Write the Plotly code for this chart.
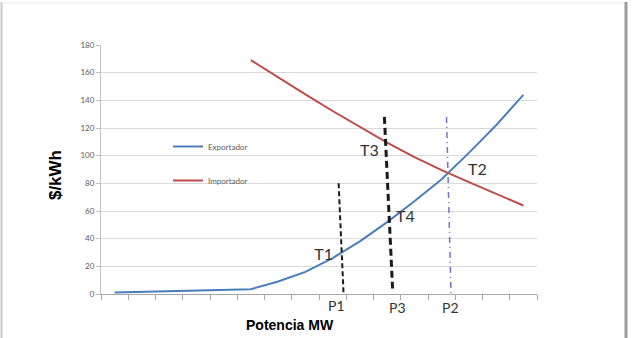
import plotly.graph_objects as go

# Data (category index 0..15)
x_idx = list(range(16))
exportador = [1, 1.5, 2, 2.5, 3, 3.5, 9, 16, 26, 38, 52, 67, 83, 102, 122, 144]
x_imp = list(range(5, 16))
importador = [169, 156.5, 144.3, 132.3, 120.6, 109.4, 99, 89.6, 80.9, 72.5, 64]

# Reference lines (category position, $/kWh)
p1_x = [8.22, 8.40]; p1_y = [80, 0.5]
p3_x = [9.90, 10.20]; p3_y = [128, 4]
p2_x = [12.18, 12.35]; p2_y = [128, -3]

t_labels = ["T1", "T3", "T4", "T2"]
t_x = [7.67, 9.35, 10.67, 13.31]
t_y = [27.5, 102.7, 55, 89]
p_labels = ["P1", "P3", "P2"]
p_x = [8.15, 10.38, 12.32]
p_y = [-8, -9.4, -9.4]

Y_MAX = 180

fig = go.Figure()
fig.add_trace(go.Scatter(x=x_idx, y=exportador, mode="lines", name="Exportador",
                         line=dict(color="#4a7ebb", width=2), legendgroup="a"))
fig.add_trace(go.Scatter(x=x_imp, y=importador, mode="lines", name="Importador",
                         line=dict(color="#be4b48", width=2), legendgroup="b"))
fig.add_trace(go.Scatter(x=p1_x, y=p1_y, mode="lines", showlegend=False,
                         line=dict(color="#1a1a1a", width=2, dash="5px,3px"), cliponaxis=False))
fig.add_trace(go.Scatter(x=p3_x, y=p3_y, mode="lines", showlegend=False,
                         line=dict(color="#1a1a1a", width=3, dash="7px,4px"), cliponaxis=False))
fig.add_trace(go.Scatter(x=p2_x, y=p2_y, mode="lines", showlegend=False,
                         line=dict(color="#7b6fc8", width=1.5, dash="6px,4px,1px,4px"), cliponaxis=False))
fig.add_trace(go.Scatter(x=t_x, y=t_y, mode="text", text=t_labels, showlegend=False,
                         textfont=dict(family="Lato", size=16, color="#333333"), cliponaxis=False))

anns = []
for t, xx, yy in zip(p_labels, p_x, p_y):
    anns.append(dict(x=xx, y=yy / Y_MAX, xref="x", yref="paper", text=t, showarrow=False,
                     yanchor="middle", xanchor="center",
                     font=dict(family="Lato", size=14, color="#333333")))
anns.append(dict(x=0.433, y=-0.124, xref="paper", yref="paper", text="<b>Potencia MW</b>",
                 yanchor="middle", xanchor="center",
                 showarrow=False, font=dict(family="Liberation Sans", size=14, color="#000000")))
anns.append(dict(x=-0.103, y=0.478, xref="paper", yref="paper", text="<b>$/kWh</b>",
                 yanchor="middle", xanchor="center",
                 textangle=-90, showarrow=False,
                 font=dict(family="Liberation Sans Narrow, Liberation Sans", size=17, color="#000000")))

W, H = 632, 338
L, R, T, B = 101, 95, 45, 44
pw, ph = W - L - R, H - T - B

def px(xp):
    return (xp - L) / pw

def py(yp):
    return (H - B - yp) / ph

shapes = [
    dict(type="line", xref="paper", yref="paper", x0=px(1.5), x1=px(1.5), y0=py(2), y1=py(340),
         line=dict(color="#c8c8c8", width=2)),
    dict(type="line", xref="paper", yref="paper", x0=px(1.5), x1=px(627), y0=py(3), y1=py(3),
         line=dict(color="#ececec", width=1)),
    dict(type="line", xref="paper", yref="paper", x0=px(626), x1=px(626), y0=py(2), y1=py(340),
         line=dict(color="#9a9a9a", width=3)),
]

fig.update_layout(
    width=W, height=H,
    margin=dict(l=L, r=R, t=T, b=B),
    paper_bgcolor="white", plot_bgcolor="white",
    annotations=anns, shapes=shapes,
    legend=dict(x=px(168), y=py(132), xanchor="left", yanchor="top",
                bgcolor="rgba(0,0,0,0)", tracegroupgap=15,
                font=dict(family="Lato", size=8, color="#595959")),
    xaxis=dict(range=[-0.5, 15.5], showgrid=False, zeroline=False,
               showline=True, linecolor="#a6a6a6", linewidth=1,
               tickmode="array", tickvals=[i - 0.5 for i in range(17)], ticktext=[""] * 17,
               ticks="outside", ticklen=5, tickcolor="#a6a6a6", fixedrange=True),
    yaxis=dict(range=[0, Y_MAX], dtick=20, showgrid=True, gridcolor="#d9d9d9", gridwidth=1,
               zeroline=False, showline=True, linecolor="#bfbfbf", linewidth=1,
               ticks="outside", ticklen=4, tickcolor="#bfbfbf",
               tickfont=dict(family="Lato", size=8, color="#595959")),
)

fig.write_html("out.html")
